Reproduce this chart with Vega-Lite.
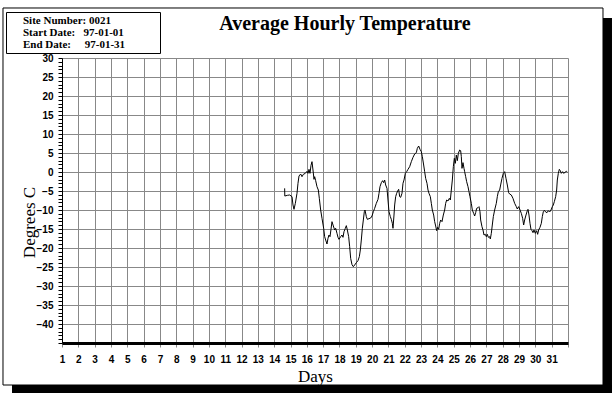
{
  "$schema": "https://vega.github.io/schema/vega-lite/v6.json",
  "width": 506,
  "height": 285,
  "autosize": "none",
  "padding": {"left": 62, "top": 58, "right": 44, "bottom": 50},
  "background": "white",
  "config": {"view": {"stroke": null}},
  "title": {
    "text": "Average Hourly Temperature",
    "font": "Liberation Serif",
    "fontSize": 20,
    "fontWeight": "bold",
    "color": "black",
    "anchor": "middle",
    "frame": "group",
    "dx": 30,
    "baseline": "alphabetic",
    "offset": -43
  },
  "resolve": {"axis": {"x": "independent", "y": "independent"}},
  "layer": [
    {
      "data": {"values": [{}]},
      "mark": {"type": "rect", "color": "black"},
      "encoding": {
        "x": {"datum": 34.144, "type": "quantitative", "axis": null},
        "x2": {"datum": 34.695},
        "y": {"datum": 40.526, "type": "quantitative", "axis": null},
        "y2": {"datum": -58.158}
      }
    },
    {
      "data": {"values": [{}]},
      "mark": {"type": "rect", "color": "black"},
      "encoding": {
        "x": {"datum": -2.063, "type": "quantitative", "axis": null},
        "x2": {"datum": 34.695},
        "y": {"datum": -56.053, "type": "quantitative", "axis": null},
        "y2": {"datum": -58.158}
      }
    },
    {
      "data": {"values": [{}]},
      "mark": {"type": "rect", "fill": "transparent", "stroke": "black", "strokeWidth": 1},
      "encoding": {
        "x": {"datum": -2.615, "type": "quantitative", "axis": null},
        "x2": {"datum": 34.144},
        "y": {"datum": 43.158, "type": "quantitative", "axis": null},
        "y2": {"datum": -56.053}
      }
    },
    {
      "data": {"values": [
        {"info": "Site Number: 0021"},
        {"info": "Start Date:\u00a0\u00a0\u00a097-01-01\u00a0\u00a0\u00a0\u00a0\u00a0\u00a0\u00a0\u00a0\u00a0\u00a0\u00a0\u00a0\u200b"},
        {"info": "End Date:\u00a0\u00a0\u00a0\u00a0\u00a097-01-31"}
      ]},
      "mark": {"type": "point", "opacity": 0},
      "encoding": {
        "color": {
          "field": "info",
          "type": "nominal",
          "scale": {"domain": [
            "Site Number: 0021",
            "Start Date:\u00a0\u00a0\u00a097-01-01\u00a0\u00a0\u00a0\u00a0\u00a0\u00a0\u00a0\u00a0\u00a0\u00a0\u00a0\u00a0\u200b",
            "End Date:\u00a0\u00a0\u00a0\u00a0\u00a097-01-31"
          ], "range": ["black", "black", "black"]},
          "legend": {
            "title": null,
            "orient": "none",
            "legendX": -56,
            "legendY": -46,
            "strokeColor": "black",
            "fillColor": "white",
            "padding": 3,
            "symbolSize": 0,
            "symbolOpacity": 0,
            "symbolStrokeWidth": 0,
            "labelOffset": 3,
            "labelFont": "Liberation Serif",
            "labelFontSize": 11,
            "labelFontWeight": "bold",
            "labelColor": "black",
            "labelLimit": 0,
            "rowPadding": 0
          }
        }
      }
    },
    {
      "data": {"values": [
        {"d": 14.641, "t": -4.30}, {"d": 14.650, "t": -6.32}, {"d": 14.805, "t": -6.14}, {"d": 14.948, "t": -6.05},
        {"d": 15.091, "t": -6.49}, {"d": 15.152, "t": -8.68}, {"d": 15.213, "t": -9.82}, {"d": 15.295, "t": -8.25},
        {"d": 15.397, "t": -5.61}, {"d": 15.458, "t": -2.98}, {"d": 15.520, "t": -1.05}, {"d": 15.622, "t": -0.53},
        {"d": 15.703, "t": -1.23}, {"d": 15.785, "t": -0.61}, {"d": 15.908, "t": -0.35}, {"d": 16.010, "t": 0.18},
        {"d": 16.071, "t": -0.35}, {"d": 16.132, "t": 0.70}, {"d": 16.193, "t": -0.35}, {"d": 16.255, "t": 1.75},
        {"d": 16.316, "t": 2.72}, {"d": 16.377, "t": 0.53}, {"d": 16.438, "t": -1.93}, {"d": 16.479, "t": -1.23},
        {"d": 16.541, "t": -2.28}, {"d": 16.622, "t": -3.86}, {"d": 16.704, "t": -4.74}, {"d": 16.765, "t": -6.93},
        {"d": 16.847, "t": -10.00}, {"d": 16.929, "t": -12.19}, {"d": 17.031, "t": -14.82}, {"d": 17.092, "t": -17.02},
        {"d": 17.153, "t": -17.90}, {"d": 17.235, "t": -18.95}, {"d": 17.296, "t": -17.46}, {"d": 17.357, "t": -16.58},
        {"d": 17.419, "t": -17.02}, {"d": 17.480, "t": -15.09}, {"d": 17.541, "t": -13.07}, {"d": 17.623, "t": -14.21},
        {"d": 17.705, "t": -15.26}, {"d": 17.766, "t": -14.82}, {"d": 17.847, "t": -16.14}, {"d": 17.910, "t": -17.19},
        {"d": 17.970, "t": -17.72}, {"d": 18.072, "t": -17.02}, {"d": 18.154, "t": -16.58}, {"d": 18.215, "t": -17.19},
        {"d": 18.277, "t": -15.70}, {"d": 18.358, "t": -14.82}, {"d": 18.420, "t": -14.12}, {"d": 18.481, "t": -15.26},
        {"d": 18.562, "t": -17.02}, {"d": 18.624, "t": -19.65}, {"d": 18.685, "t": -22.72}, {"d": 18.767, "t": -24.39},
        {"d": 18.848, "t": -24.91}, {"d": 18.930, "t": -24.47}, {"d": 19.032, "t": -23.86}, {"d": 19.134, "t": -23.33},
        {"d": 19.216, "t": -22.28}, {"d": 19.277, "t": -20.53}, {"d": 19.338, "t": -17.90}, {"d": 19.400, "t": -14.82},
        {"d": 19.461, "t": -12.63}, {"d": 19.522, "t": -10.44}, {"d": 19.563, "t": -10.00}, {"d": 19.645, "t": -11.75},
        {"d": 19.706, "t": -12.46}, {"d": 19.808, "t": -12.28}, {"d": 19.910, "t": -12.11}, {"d": 19.992, "t": -11.58},
        {"d": 20.074, "t": -10.44}, {"d": 20.155, "t": -9.56}, {"d": 20.257, "t": -8.25}, {"d": 20.360, "t": -7.19},
        {"d": 20.421, "t": -5.61}, {"d": 20.482, "t": -3.86}, {"d": 20.564, "t": -2.81}, {"d": 20.645, "t": -2.28},
        {"d": 20.707, "t": -2.81}, {"d": 20.768, "t": -2.11}, {"d": 20.829, "t": -3.42}, {"d": 20.911, "t": -4.30},
        {"d": 20.972, "t": -7.37}, {"d": 21.033, "t": -10.44}, {"d": 21.115, "t": -11.75}, {"d": 21.176, "t": -12.46},
        {"d": 21.238, "t": -13.51}, {"d": 21.278, "t": -14.82}, {"d": 21.340, "t": -11.32}, {"d": 21.381, "t": -8.68},
        {"d": 21.442, "t": -6.49}, {"d": 21.503, "t": -5.61}, {"d": 21.564, "t": -5.00}, {"d": 21.626, "t": -4.56},
        {"d": 21.687, "t": -6.49}, {"d": 21.748, "t": -6.67}, {"d": 21.830, "t": -5.61}, {"d": 21.891, "t": -2.98},
        {"d": 21.953, "t": -2.11}, {"d": 22.034, "t": -0.35}, {"d": 22.116, "t": 0.09}, {"d": 22.198, "t": 0.70},
        {"d": 22.300, "t": 1.40}, {"d": 22.402, "t": 2.72}, {"d": 22.504, "t": 3.86}, {"d": 22.606, "t": 4.74},
        {"d": 22.708, "t": 5.09}, {"d": 22.769, "t": 6.23}, {"d": 22.851, "t": 6.84}, {"d": 22.933, "t": 5.96},
        {"d": 23.014, "t": 5.35}, {"d": 23.076, "t": 4.04}, {"d": 23.157, "t": 1.84}, {"d": 23.219, "t": 0.09},
        {"d": 23.280, "t": -1.67}, {"d": 23.362, "t": -2.98}, {"d": 23.423, "t": -4.74}, {"d": 23.484, "t": -5.61},
        {"d": 23.566, "t": -6.49}, {"d": 23.627, "t": -8.25}, {"d": 23.688, "t": -10.00}, {"d": 23.770, "t": -11.32},
        {"d": 23.831, "t": -13.07}, {"d": 23.893, "t": -14.21}, {"d": 23.954, "t": -15.44}, {"d": 24.015, "t": -14.56},
        {"d": 24.076, "t": -15.09}, {"d": 24.138, "t": -13.51}, {"d": 24.199, "t": -12.63}, {"d": 24.281, "t": -13.07},
        {"d": 24.362, "t": -11.32}, {"d": 24.444, "t": -10.00}, {"d": 24.505, "t": -8.25}, {"d": 24.566, "t": -7.37},
        {"d": 24.648, "t": -7.63}, {"d": 24.730, "t": -6.93}, {"d": 24.791, "t": -7.37}, {"d": 24.852, "t": -4.74},
        {"d": 24.914, "t": -2.11}, {"d": 24.975, "t": 1.40}, {"d": 25.036, "t": 3.60}, {"d": 25.097, "t": 2.28},
        {"d": 25.159, "t": 4.47}, {"d": 25.220, "t": 2.98}, {"d": 25.281, "t": 4.91}, {"d": 25.363, "t": 5.79},
        {"d": 25.423, "t": 5.61}, {"d": 25.464, "t": 4.04}, {"d": 25.505, "t": 0.96}, {"d": 25.566, "t": 2.46},
        {"d": 25.628, "t": 0.96}, {"d": 25.668, "t": 0.09}, {"d": 25.730, "t": -1.23}, {"d": 25.791, "t": -2.54},
        {"d": 25.873, "t": -3.86}, {"d": 25.934, "t": -5.18}, {"d": 25.995, "t": -6.49}, {"d": 26.077, "t": -8.25},
        {"d": 26.138, "t": -10.00}, {"d": 26.220, "t": -10.88}, {"d": 26.281, "t": -11.58}, {"d": 26.342, "t": -10.70},
        {"d": 26.404, "t": -9.56}, {"d": 26.485, "t": -9.39}, {"d": 26.547, "t": -9.12}, {"d": 26.608, "t": -10.44},
        {"d": 26.649, "t": -12.63}, {"d": 26.730, "t": -14.39}, {"d": 26.792, "t": -15.26}, {"d": 26.853, "t": -16.58},
        {"d": 26.935, "t": -16.40}, {"d": 26.996, "t": -17.02}, {"d": 27.057, "t": -16.40}, {"d": 27.118, "t": -17.19},
        {"d": 27.200, "t": -17.02}, {"d": 27.241, "t": -17.63}, {"d": 27.302, "t": -16.14}, {"d": 27.363, "t": -13.95},
        {"d": 27.425, "t": -11.75}, {"d": 27.506, "t": -10.00}, {"d": 27.608, "t": -8.25}, {"d": 27.670, "t": -6.49},
        {"d": 27.731, "t": -5.18}, {"d": 27.813, "t": -4.74}, {"d": 27.874, "t": -3.42}, {"d": 27.956, "t": -1.67},
        {"d": 28.037, "t": -0.35}, {"d": 28.119, "t": 0.09}, {"d": 28.201, "t": -1.67}, {"d": 28.282, "t": -3.42},
        {"d": 28.364, "t": -5.44}, {"d": 28.425, "t": -5.79}, {"d": 28.527, "t": -6.05}, {"d": 28.629, "t": -6.93},
        {"d": 28.732, "t": -8.25}, {"d": 28.834, "t": -9.12}, {"d": 28.895, "t": -9.74}, {"d": 28.977, "t": -9.12},
        {"d": 29.038, "t": -9.74}, {"d": 29.140, "t": -10.88}, {"d": 29.222, "t": -12.19}, {"d": 29.283, "t": -13.95},
        {"d": 29.344, "t": -12.63}, {"d": 29.426, "t": -11.32}, {"d": 29.508, "t": -10.18}, {"d": 29.549, "t": -9.82},
        {"d": 29.610, "t": -11.32}, {"d": 29.671, "t": -13.51}, {"d": 29.732, "t": -15.09}, {"d": 29.794, "t": -15.44},
        {"d": 29.855, "t": -15.96}, {"d": 29.916, "t": -15.26}, {"d": 29.998, "t": -16.14}, {"d": 30.080, "t": -15.44},
        {"d": 30.141, "t": -16.40}, {"d": 30.202, "t": -15.26}, {"d": 30.284, "t": -14.56}, {"d": 30.365, "t": -13.51},
        {"d": 30.427, "t": -11.75}, {"d": 30.488, "t": -10.44}, {"d": 30.549, "t": -10.09}, {"d": 30.631, "t": -10.53},
        {"d": 30.713, "t": -10.70}, {"d": 30.794, "t": -10.18}, {"d": 30.876, "t": -10.53}, {"d": 30.958, "t": -10.00},
        {"d": 31.039, "t": -9.12}, {"d": 31.101, "t": -8.68}, {"d": 31.162, "t": -7.81}, {"d": 31.244, "t": -6.49},
        {"d": 31.305, "t": -4.74}, {"d": 31.346, "t": -2.11}, {"d": 31.407, "t": -0.35}, {"d": 31.468, "t": 0.70},
        {"d": 31.529, "t": 0.35}, {"d": 31.591, "t": -0.35}, {"d": 31.672, "t": 0.09}, {"d": 31.734, "t": -0.35},
        {"d": 31.815, "t": -0.09}, {"d": 31.897, "t": 0.18}, {"d": 31.958, "t": 0.00}
      ]},
      "mark": {"type": "line", "color": "black", "strokeWidth": 1},
      "encoding": {
        "x": {
          "field": "d",
          "type": "quantitative",
          "scale": {"domain": [1, 32], "nice": false, "zero": false},
          "axis": {
            "orient": "bottom",
            "title": "Days",
            "titleFont": "Liberation Serif",
            "titleFontSize": 17,
            "titleFontWeight": "normal",
            "titleColor": "black",
            "titleBaseline": "middle",
            "titleY": 33,
            "values": [1,2,3,4,5,6,7,8,9,10,11,12,13,14,15,16,17,18,19,20,21,22,23,24,25,26,27,28,29,30,31,32],
            "labelExpr": "datum.value == 32 ? '' : datum.label",
            "labelFont": "Liberation Sans",
            "labelFontSize": 10,
            "labelFontWeight": "bold",
            "labelColor": "black",
            "labelFlush": false,
            "labelOverlap": false,
            "labelPadding": 7,
            "tickColor": "#888888",
            "tickSize": 4,
            "domainColor": "black",
            "domainWidth": 3,
            "grid": true,
            "gridColor": "#888888",
            "gridWidth": 1
          }
        },
        "y": {
          "field": "t",
          "type": "quantitative",
          "scale": {"domain": [-45, 30], "nice": false, "zero": false},
          "axis": {
            "orient": "left",
            "title": "Degrees C",
            "titleFont": "Liberation Serif",
            "titleFontSize": 17,
            "titleFontWeight": "normal",
            "titleColor": "black",
            "titleAngle": -90,
            "titleAlign": "center",
            "titleBaseline": "middle",
            "titleX": -33,
            "titleY": 164,
            "values": [-45,-44,-43,-42,-41,-40,-39,-38,-37,-36,-35,-34,-33,-32,-31,-30,-29,-28,-27,-26,-25,-24,-23,-22,-21,-20,-19,-18,-17,-16,-15,-14,-13,-12,-11,-10,-9,-8,-7,-6,-5,-4,-3,-2,-1,0,1,2,3,4,5,6,7,8,9,10,11,12,13,14,15,16,17,18,19,20,21,22,23,24,25,26,27,28,29,30],
            "labelExpr": "(datum.value % 5 == 0 && datum.value > -45) ? datum.label : ''",
            "labelFont": "Liberation Sans",
            "labelFontSize": 10,
            "labelFontWeight": "bold",
            "labelColor": "black",
            "labelFlush": false,
            "labelOverlap": false,
            "labelPadding": 5,
            "tickColor": "black",
            "tickSize": 4,
            "domainColor": "black",
            "domainWidth": 1,
            "grid": true,
            "gridColor": "#888888",
            "gridWidth": 1,
            "gridOpacity": {"condition": {"test": "datum.value % 5 == 0", "value": 1}, "value": 0}
          }
        }
      }
    }
  ]
}
